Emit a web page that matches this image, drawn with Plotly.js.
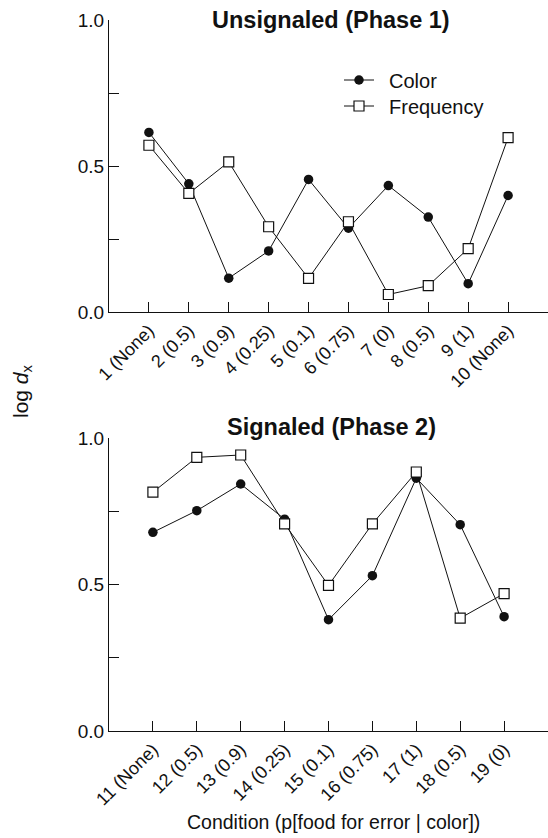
<!DOCTYPE html>
<html>
<head>
<meta charset="utf-8">
<script src="https://cdn.plot.ly/plotly-3.0.1.min.js"></script>
<style>html,body{margin:0;padding:0;background:#fff;}#chart{width:548px;height:838px;}</style>
</head>
<body>
<div id="chart"></div>
<script>
// Phase 1 (Unsignaled)
var phase1Conditions = ["1 (None)", "2 (0.5)", "3 (0.9)", "4 (0.25)", "5 (0.1)", "6 (0.75)", "7 (0)", "8 (0.5)", "9 (1)", "10 (None)"];
var phase1Color = [0.615, 0.439, 0.116, 0.209, 0.454, 0.287, 0.433, 0.325, 0.097, 0.399];
var phase1Frequency = [0.571, 0.406, 0.514, 0.292, 0.115, 0.309, 0.060, 0.090, 0.217, 0.597];

// Phase 2 (Signaled)
var phase2Conditions = ["11 (None)", "12 (0.5)", "13 (0.9)", "14 (0.25)", "15 (0.1)", "16 (0.75)", "17 (1)", "18 (0.5)", "19 (0)"];
var phase2Color = [0.678, 0.752, 0.843, 0.723, 0.380, 0.530, 0.863, 0.704, 0.390];
var phase2Frequency = [0.815, 0.934, 0.942, 0.707, 0.497, 0.707, 0.884, 0.385, 0.469];

var seriesNames = ["Color", "Frequency"];
var yTickVals = [0, 0.25, 0.5, 0.75, 1.0];
var yTickText = ["0.0", "", "0.5", "", "1.0"];

var FONT = "Liberation Sans, Arial, sans-serif";
var INK = "#111";

function idx(arr){ return arr.map(function(_, i){ return i; }); }

var circle = {symbol: "circle", size: 9.5, color: INK, line: {width: 0}};
var square = {symbol: "square", size: 10, color: "#fff", line: {width: 1.2, color: INK}};
var GAP = "\u2002";

var traces = [
  {x: idx(phase1Conditions), y: phase1Color, name: GAP + seriesNames[0], mode: "lines+markers",
   line: {color: INK, width: 1}, marker: circle, xaxis: "x", yaxis: "y", legend: "legend"},
  {x: idx(phase1Conditions), y: phase1Frequency, name: GAP + seriesNames[1], mode: "lines+markers",
   line: {color: INK, width: 1}, marker: square, xaxis: "x", yaxis: "y", legend: "legend2"},
  {x: idx(phase2Conditions), y: phase2Color, name: seriesNames[0], mode: "lines+markers", showlegend: false,
   line: {color: INK, width: 1}, marker: circle, xaxis: "x2", yaxis: "y2"},
  {x: idx(phase2Conditions), y: phase2Frequency, name: seriesNames[1], mode: "lines+markers", showlegend: false,
   line: {color: INK, width: 1}, marker: square, xaxis: "x2", yaxis: "y2"}
];

function xAxis(labels, anchor){
  return {
    anchor: anchor, domain: [0, 1],
    range: [-1, labels.length],
    tickmode: "array", tickvals: idx(labels), ticktext: labels,
    tickangle: -45, ticks: "inside", ticklen: 10, tickwidth: 1, tickcolor: INK,
    showline: true, linecolor: INK, linewidth: 1,
    showgrid: false, zeroline: false, automargin: false,
    tickfont: {family: FONT, size: 18, color: INK}
  };
}
function yAxis(anchor, domain){
  return {
    anchor: anchor, domain: domain, range: [0, 1],
    tickmode: "array", tickvals: yTickVals, ticktext: yTickText,
    ticks: "inside", ticklen: 10, tickwidth: 1, tickcolor: INK,
    showline: true, linecolor: INK, linewidth: 1,
    showgrid: false, zeroline: false, automargin: false,
    tickfont: {family: FONT, size: 19, color: INK}
  };
}

var H = 838, PW = 439, L = 109;
function legendAt(yCenterPx){
  return {x: (339 - L)/PW, y: 1 - yCenterPx/H, xanchor: "left", yanchor: "middle",
          font: {family: FONT, size: 20, color: INK}, bgcolor: "rgba(0,0,0,0)",
          itemwidth: 30, borderwidth: 0};
}
var layout = {
  width: 548, height: 838,
  margin: {l: L, r: 0, t: 0, b: 0},
  paper_bgcolor: "#fff", plot_bgcolor: "#fff",
  showlegend: true,
  legend: legendAt(80),
  legend2: legendAt(106),
  xaxis: xAxis(phase1Conditions, "y"),
  yaxis: yAxis("x", [1 - 312/H, 1 - 20/H]),
  xaxis2: xAxis(phase2Conditions, "y2"),
  yaxis2: yAxis("x2", [1 - 731/H, 1 - 438/H]),
  annotations: [
    {text: "<b>Unsignaled (Phase 1)</b>", xref: "paper", yref: "paper", x: (331 - L)/PW, y: 1 - 20/H,
     xanchor: "center", yanchor: "middle", showarrow: false, font: {family: FONT, size: 23.5, color: INK}},
    {text: "<b>Signaled (Phase 2)</b>", xref: "paper", yref: "paper", x: (331 - L)/PW, y: 1 - 427/H,
     xanchor: "center", yanchor: "middle", showarrow: false, font: {family: FONT, size: 23.5, color: INK}},
    {text: "log <i>d</i><sub>x</sub>", xref: "paper", yref: "paper", x: (22 - L)/PW, y: 1 - 391/H,
     xanchor: "center", yanchor: "middle", textangle: -90, showarrow: false,
     font: {family: FONT, size: 21, color: INK}},
    {text: "Condition (p[food for error | color])", xref: "paper", yref: "paper", x: (333 - L)/PW, y: 1 - 822/H,
     xanchor: "center", yanchor: "middle", showarrow: false, font: {family: FONT, size: 19.5, color: INK}}
  ]
};

Plotly.newPlot("chart", traces, layout, {staticPlot: true, displayModeBar: false});
</script>
</body>
</html>
